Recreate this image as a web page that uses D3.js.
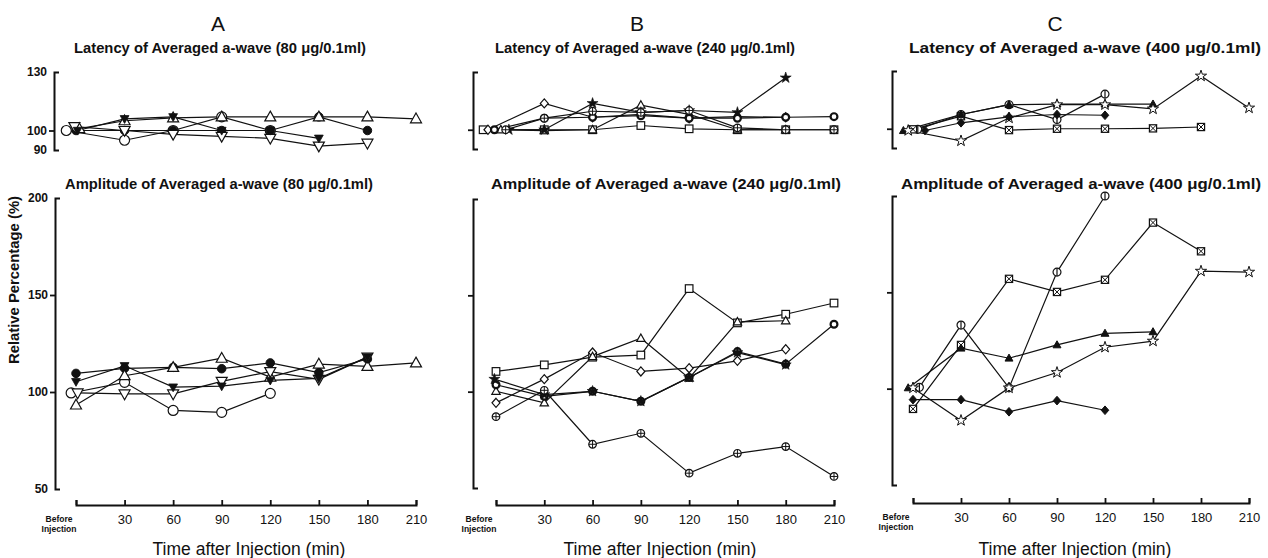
<!DOCTYPE html>
<html>
<head>
<meta charset="utf-8">
<script src="https://cdn.jsdelivr.net/npm/d3@7"></script>
<style>
  body { margin: 0; background: #fff; }
  text { font-family: "Liberation Sans", Arial, Helvetica, sans-serif; fill: #111; }
</style>
</head>
<body>
<svg id="chart" width="1268" height="558"></svg>
<script>
// a-wave latency / amplitude after injection, three doses (A, B, C)

var timeTicks = [0, 30, 60, 90, 120, 150, 180, 210];
var panelLetters = ["A", "B", "C"];
var doses = ["80", "240", "400"];

// Panel A - 80 ug/0.1ml
var latA = [
  [100, 95, 100, 107, 100],
  [100, 100, 100, 100, 100, 107, 100],
  [101, 105, 106.5, 107, 107, 107, 107, 106],
  [102, 100, 98, 97, 96, 92, 93.5],
  [100, 106, 107, 100, 100, 96]
];
var ampA = [
  [99.5, 105, 90.5, 89.5, 99.3],
  [109.6, 112.2, 112.7, 112, 115, 110, 117],
  [93.3, 108.4, 112.7, 117.4, 107.7, 114.4, 113.2, 115],
  [99.5, 99, 99, 105.5, 110.5, 106.5, 118],
  [105.3, 113.5, 102.5, 103, 106, 107, 118]
];
// time (min) of each series' "before" point, spread a little as in the figure
var latA0 = [-6, 0, 2, -1, 1];
var ampA0 = [-3, 0, 0, 1, 0];
var symA = ["circle", "dot", "triUp", "triDown", "triDownFill"];

// Panel B - 240 ug/0.1ml
var latB = [
  [100, 100, 100, 102.2, 100.5, 100, 100, 100],
  [100, 113.7, 106.5, 108, 106, 106.8, 106.5],
  [100, 99.5, 100, 112.8, 108, 100, 100],
  [100, 106, 106.5, 107.3, 106, 106, 106.5, 106.8],
  [100, 100, 113.7, 109, 110, 109, 127],
  [100, 106, 109.6, 109, 110, 101, 100, 100]
];
var ampB = [
  [110.5, 113.9, 117.9, 119, 153.5, 135.7, 140.2, 146],
  [94.2, 106.5, 120.3, 110.5, 112.2, 116, 122],
  [100.2, 94.2, 118.2, 127.7, 107, 136.2, 136.8],
  [103.6, 97.6, 100.2, 95, 107.4, 120.8, 114.3, 135],
  [106.5, 98.5, 100.2, 95, 107.4, 120.3, 114],
  [87, 100.7, 72.7, 78.4, 57.7, 68, 71.5, 56]
];
var latB0 = [-8, -5, 3, -1, 8, 6];
var ampB0 = [0, 0, 0, 0, -1, 0];
var symB = ["square", "diamond", "triUp", "boldCircle", "star", "circlePlus"];

// Panel C - 400 ug/0.1ml
var latC = [
  [99.7, 107.4, 112.5, 104.8, 118],
  [99.7, 106.5, 99.3, 100, 100, 100.2, 100.9],
  [99, 107.4, 112.5, 112.8, 112.8, 112.8],
  [99.1, 93.7, 105.6, 112.5, 112.5, 110.3, 127.4, 110.8],
  [99.1, 103.1, 106.2, 107.4, 107]
];
var ampC = [
  [100.7, 133, 100.4, 160.5, 200],
  [89.5, 122.7, 157, 150.2, 156.5, 186.2, 171.3],
  [100.4, 121, 115.8, 122.7, 128.7, 129.5],
  [100.4, 83.5, 100.4, 108.4, 121.5, 124.7, 161, 160.5],
  [94.3, 94.3, 88, 93.8, 88.8]
];
var latC0 = [3, 0, -6, -3, 7.5];
var ampC0 = [4, 0, -3, 0, 0];
var symC = ["circleBar", "crossSquare", "triFill", "starOpen", "diamondFill"];

var panels = [
  { lat: latA, amp: ampA, lat0: latA0, amp0: ampA0, sym: symA, xr: [76, 416], ax: 54, latR: [150, 72], ampR: [489, 198], xAxisY: 505, s: 5, labels: true,
    letterX: 218, latX: 220, latW: 292, ampX: 219, ampW: 308, xt: 249 },
  { lat: latB, amp: ampB, lat0: latB0, amp0: ampB0, sym: symB, xr: [496, 834], ax: 473, latR: [149, 72], ampR: [488, 199], xAxisY: 505, s: 3.8, labels: false,
    letterX: 637, latX: 645, latW: 300, ampX: 666, ampW: 350, xt: 660 },
  { lat: latC, amp: ampC, lat0: latC0, amp0: ampC0, sym: symC, xr: [913, 1249], ax: 892, latR: [148, 71], ampR: [485, 196], xAxisY: 503, s: 3.6, labels: false,
    letterX: 1055, latX: 1085, latW: 352, ampX: 1081, ampW: 360, xt: 1075 }
];

var svg = d3.select("#chart");
var ink = "#111";

function drawMarker(g, type, s) {
  var tri = "M0," + (-s * 1.15) + "L" + (s * 1.1) + "," + (s * 0.8) + "L" + (-s * 1.1) + "," + (s * 0.8) + "Z";
  var dia = "M0," + (-s * 1.2) + "L" + (s * 1.05) + ",0L0," + (s * 1.2) + "L" + (-s * 1.05) + ",0Z";
  var open = function(sel) { return sel.attr("fill", "#fff").attr("stroke", ink).attr("stroke-width", 1.2); };
  var filled = function(sel) { return sel.attr("fill", ink).attr("stroke", ink).attr("stroke-width", 1); };
  switch (type) {
    case "circle":
      open(g.append("circle").attr("r", s));
      break;
    case "dot":
      filled(g.append("circle").attr("r", s * 0.85));
      break;
    case "boldCircle":
      open(g.append("circle").attr("r", s * 0.9)).attr("stroke-width", 2.2);
      break;
    case "circlePlus":
      open(g.append("circle").attr("r", s));
      g.append("path").attr("d", "M" + (-s) + ",0H" + s + "M0," + (-s) + "V" + s)
        .attr("stroke", ink).attr("stroke-width", 1);
      break;
    case "circleBar":
      open(g.append("circle").attr("r", s * 1.1));
      g.append("path").attr("d", "M0," + (-s * 1.1) + "V" + (s * 1.1))
        .attr("stroke", ink).attr("stroke-width", 1.2);
      break;
    case "square":
      open(g.append("rect").attr("x", -s).attr("y", -s).attr("width", 2 * s).attr("height", 2 * s));
      break;
    case "crossSquare":
      open(g.append("rect").attr("x", -s).attr("y", -s).attr("width", 2 * s).attr("height", 2 * s));
      g.append("path").attr("d", "M" + (-s) + "," + (-s) + "L" + s + "," + s + "M" + s + "," + (-s) + "L" + (-s) + "," + s)
        .attr("stroke", ink).attr("stroke-width", 1);
      break;
    case "diamond":
      open(g.append("path").attr("d", dia));
      break;
    case "diamondFill":
      filled(g.append("path").attr("d", dia));
      break;
    case "triUp":
      open(g.append("path").attr("d", tri));
      break;
    case "triFill":
      filled(g.append("path").attr("d", tri));
      break;
    case "triDown":
      open(g.append("path").attr("d", tri).attr("transform", "rotate(180)"));
      break;
    case "triDownFill":
      filled(g.append("path").attr("d", tri).attr("transform", "rotate(180) scale(0.8)"));
      break;
    case "star":
      filled(g.append("path").attr("d", d3.symbol(d3.symbolStar, s * s * 2.6)())).attr("stroke-width", 0.6);
      break;
    case "starOpen":
      open(g.append("path").attr("d", d3.symbol(d3.symbolStar, s * s * 3)())).attr("stroke-width", 1);
      break;
  }
}

function drawSeries(g, list, first, syms, x, y, s) {
  var t = function(i, k) { return i === 0 ? first[k] : timeTicks[i]; };
  list.forEach(function(vals, k) {
    var line = d3.line()
      .x(function(d, i) { return x(t(i, k)); })
      .y(function(d) { return y(d); });
    g.append("path").attr("d", line(vals))
      .attr("fill", "none").attr("stroke", ink).attr("stroke-width", 1.2);
  });
  list.forEach(function(vals, k) {
    vals.forEach(function(v, i) {
      var m = g.append("g").attr("transform", "translate(" + x(t(i, k)) + "," + y(v) + ")");
      drawMarker(m, syms[k], s);
    });
  });
}

function styleAxis(a) {
  a.select(".domain").attr("stroke", ink).attr("stroke-width", 2);
  a.selectAll(".tick line").attr("stroke", ink).attr("stroke-width", 1.8);
  a.selectAll(".tick text").attr("font-size", 12).attr("font-weight", "bold").attr("fill", ink);
}

panels.forEach(function(p, pi) {
  var g = svg.append("g");
  var x = d3.scaleLinear().domain([0, 210]).range(p.xr);
  var yLat = d3.scaleLinear().domain([90, 130]).range(p.latR);
  var yAmp = d3.scaleLinear().domain([50, 200]).range(p.ampR);

  // panel letter and titles
  g.append("text").attr("x", p.letterX).attr("y", 31).attr("text-anchor", "middle")
    .attr("font-size", 21).text(panelLetters[pi]);
  g.append("text").attr("x", p.latX).attr("y", 53).attr("text-anchor", "middle")
    .attr("font-size", 14).attr("font-weight", "bold")
    .attr("textLength", p.latW).attr("lengthAdjust", "spacingAndGlyphs")
    .text("Latency of Averaged a-wave (" + doses[pi] + " \u03bcg/0.1ml)");
  g.append("text").attr("x", p.ampX).attr("y", 189).attr("text-anchor", "middle")
    .attr("font-size", 14).attr("font-weight", "bold")
    .attr("textLength", p.ampW).attr("lengthAdjust", "spacingAndGlyphs")
    .text("Amplitude of Averaged a-wave (" + doses[pi] + " \u03bcg/0.1ml)");

  // latency y axis (bracket)
  var latAxis = d3.axisLeft(yLat)
    .tickValues(p.labels ? [90, 100, 130] : [100])
    .tickFormat(p.labels ? d3.format("d") : function() { return ""; })
    .tickSizeInner(5).tickSizeOuter(-5).tickPadding(2);
  var la = g.append("g").attr("transform", "translate(" + p.ax + ",0)").call(latAxis);
  styleAxis(la);
  la.selectAll(".tick").filter(function(d) { return d !== 100; }).select("line").remove();

  // amplitude y axis (bracket)
  var ampAxis = d3.axisLeft(yAmp)
    .tickValues(p.labels ? [50, 100, 150, 200] : [100, 150])
    .tickFormat(p.labels ? d3.format("d") : function() { return ""; })
    .tickSizeInner(5).tickSizeOuter(-5).tickPadding(2);
  var aa = g.append("g").attr("transform", "translate(" + (p.ax + (p.labels ? 1 : 0)) + ",0)").call(ampAxis);
  styleAxis(aa);
  aa.selectAll(".tick").filter(function(d) { return d === 50 || d === 200; }).select("line").remove();

  // x axis, ticks pointing up
  var xAxis = d3.axisBottom(x).tickValues(timeTicks)
    .tickFormat(function(d) { return d === 0 ? "" : d; })
    .tickSizeInner(-5).tickSizeOuter(-5).tickPadding(10);
  var xa = g.append("g").attr("transform", "translate(0," + p.xAxisY + ")").call(xAxis);
  styleAxis(xa);
  xa.selectAll(".tick text").attr("font-size", 13).attr("font-weight", "normal");
  var before = xa.append("text").attr("x", x(0) - 17).attr("y", 17)
    .attr("font-size", 8.5).attr("font-weight", "bold").attr("fill", ink);
  before.append("tspan").attr("x", x(0) - 17).text("Before");
  before.append("tspan").attr("x", x(0) - 17).attr("dy", 10).text("Injection");

  g.append("text").attr("x", p.xt).attr("y", 555).attr("text-anchor", "middle")
    .attr("font-size", 17.5).text("Time after Injection (min)");

  // data
  drawSeries(g.append("g"), p.lat, p.lat0, p.sym, x, yLat, p.s);
  drawSeries(g.append("g"), p.amp, p.amp0, p.sym, x, yAmp, p.s);
});

svg.append("text")
  .attr("transform", "translate(19,280) rotate(-90)")
  .attr("text-anchor", "middle").attr("font-size", 15).attr("font-weight", "bold")
  .attr("textLength", 168).attr("lengthAdjust", "spacingAndGlyphs")
  .text("Relative Percentage (%)");
</script>
</body>
</html>
